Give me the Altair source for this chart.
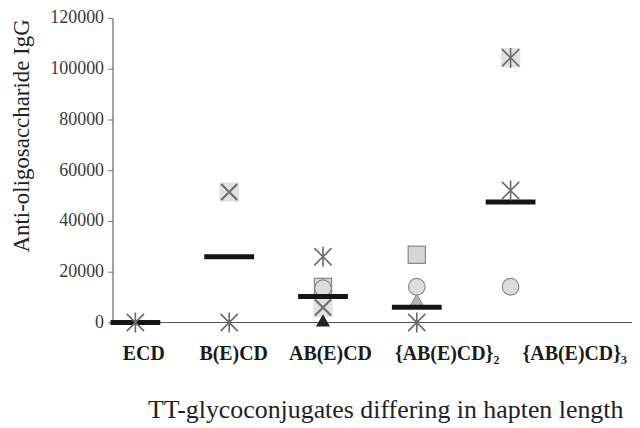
import altair as alt
import pandas as pd

categories = ["ECD", "B(E)CD", "AB(E)CD", "{AB(E)CD}₂", "{AB(E)CD}₃"]

# per-mouse titres, one list per marker style (None = no point)
star_vals = [0, 0, 25900, 0, 52000]
star_top_vals = [None, None, None, None, 104300]
x_vals = [None, 51400, 5900, None, None]
shade_vals = [None, 51400, 5900, None, 104300]
square_vals = [None, None, 14000, 26700, None]
circle_vals = [None, None, 13500, 14100, 14100]
triangle_vals = [None, None, None, 8600, None]
dark_vals = [None, None, 800, None, None]
mean_vals = [0, 25900, 10200, 6000, 47500]

y_ticks = [0, 20000, 40000, 60000, 80000, 100000, 120000]

series = {
    "star": star_vals,
    "star_top": star_top_vals,
    "x": x_vals,
    "shade": shade_vals,
    "square": square_vals,
    "circle": circle_vals,
    "triangle": triangle_vals,
    "dark": dark_vals,
    "mean": mean_vals,
}
rows = []
for name, vals in series.items():
    for c, v in zip(categories, vals):
        if v is not None:
            rows.append({"category": c, "value": v, "series": name})
df = pd.DataFrame(rows)

label_offset = {
    "condition": [
        {"test": "datum.value == '%s'" % categories[0], "value": 8},
        {"test": "datum.value == '%s'" % categories[1], "value": 4},
        {"test": "datum.value == '%s'" % categories[2], "value": 7},
        {"test": "datum.value == '%s'" % categories[3], "value": 30},
        {"test": "datum.value == '%s'" % categories[4], "value": 64},
    ],
    "value": 0,
}

x_enc = alt.X(
    "category:N",
    sort=categories,
    scale=alt.Scale(type="point", domain=categories, range=[23, 400], padding=0),
    axis=alt.Axis(
        title="TT-glycoconjugates differing in hapten length",
        titleFont="Liberation Serif",
        titleFontSize=26,
        titleFontWeight="normal",
        titleColor="#222",
        titleX=274,
        titleY=87,
        titleBaseline="middle",
        labelFont="Liberation Serif",
        labelFontSize=20,
        labelFontWeight="bold",
        labelColor="#1a1a1a",
        labelAngle=0,
        labelPadding=21,
        labelOverlap=False,
        labelOffset=label_offset,
        ticks=False,
        domain=False,
    ),
)
y_enc = alt.Y(
    "value:Q",
    scale=alt.Scale(domain=[0, 120000], nice=False, zero=True),
    axis=alt.Axis(
        title="Anti-oligosaccharide IgG",
        titleFont="Liberation Serif",
        titleFontSize=23,
        titleFontWeight="normal",
        titleColor="#222",
        titleAngle=-90,
        titleX=-91,
        titleY=118,
        titleAlign="center",
        titleBaseline="middle",
        values=y_ticks,
        format="d",
        labelFont="Liberation Serif",
        labelFontSize=18,
        labelColor="#3a3a3a",
        labelPadding=4,
        tickSize=5,
        tickColor="#777",
        domainColor="#666",
        domainWidth=1.2,
        grid=False,
    ),
)

base = alt.Chart(df).encode(x=x_enc, y=y_enc)

asterisk = "M-1,-1L1,1M-1,1L1,-1M0,-1.15L0,1.15"
xshape = "M-1,-1L1,1M-1,1L1,-1"

shade = base.transform_filter("datum.series == 'shade'").mark_point(
    shape="square", filled=True, size=380, color="#e2e2e2", opacity=1
)
square = base.transform_filter("datum.series == 'square'").mark_point(
    shape="square", filled=True, size=300, fill="#d6d6d6", stroke="#8a8a8a", strokeWidth=1.2, opacity=1
)
circle = base.transform_filter("datum.series == 'circle'").mark_point(
    shape="circle", filled=True, size=280, fill="#dcdcdc", stroke="#888", strokeWidth=1.2, opacity=1
)
triangle = base.transform_filter("datum.series == 'triangle'").mark_point(
    shape="triangle-up", filled=True, size=220, fill="#b5b5b5", stroke="#888", strokeWidth=1, opacity=1
)
dark = base.transform_filter("datum.series == 'dark'").mark_point(
    shape="triangle-up", filled=True, size=200, fill="#222", opacity=1
)
xmark = base.transform_filter("datum.series == 'x'").mark_point(
    shape=xshape, filled=False, size=260, stroke="#707070", strokeWidth=2.2, opacity=1
)
star = base.transform_filter("datum.series == 'star' || datum.series == 'star_top'").mark_point(
    shape=asterisk, filled=False, size=300, stroke="#6a6a6a", strokeWidth=1.6, opacity=1
)
mean = base.transform_filter("datum.series == 'mean'").mark_tick(
    orient="horizontal", size=50, thickness=5, color="#151515", opacity=1
)
# x-axis baseline running the full plot width
baseline = alt.Chart(df).mark_rule(color="#555", strokeWidth=1.2).encode(
    x=alt.value(0), x2=alt.value(522), y=alt.value(306)
)

chart = (
    alt.layer(baseline, shade, square, circle, triangle, dark, xmark, mean, star)
    .properties(
        width=522,
        height=306,
        autosize=alt.AutoSizeParams(type="none"),
        padding={"left": 105, "top": 9, "right": 0, "bottom": 100},
        background="white",
    )
    .configure_view(stroke=None)
)

chart.save("out.html", embed_options={"renderer": "svg", "actions": False})
